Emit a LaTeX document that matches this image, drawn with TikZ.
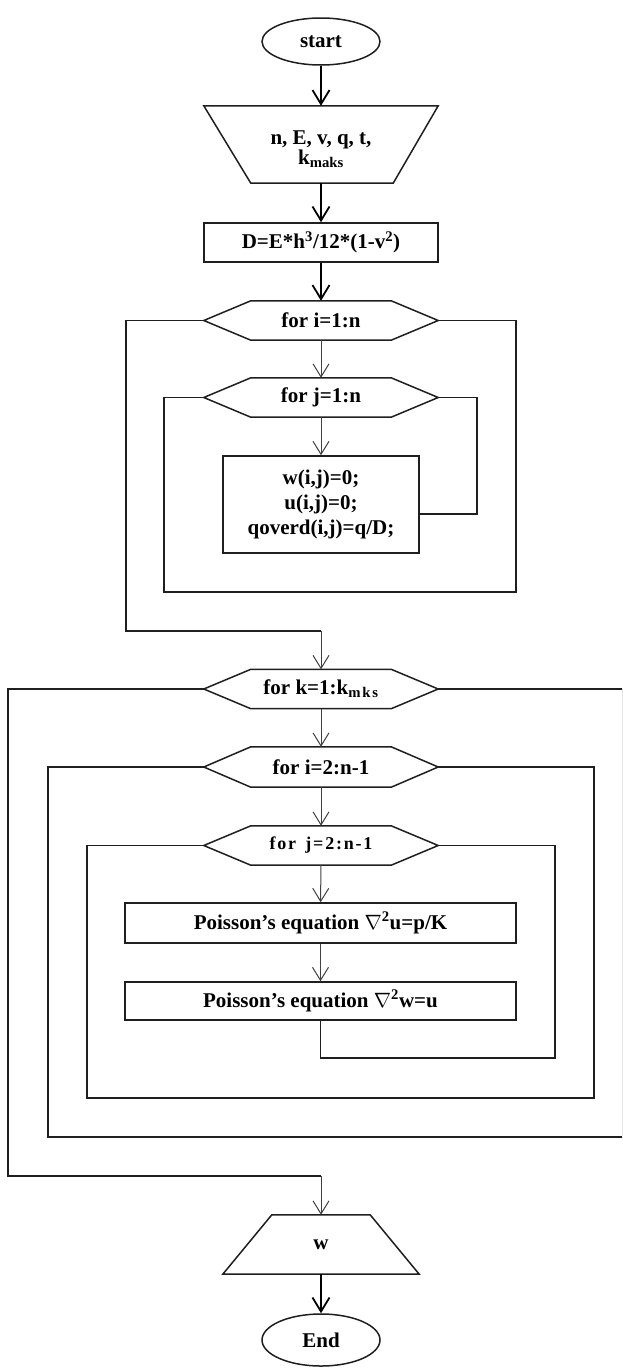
\documentclass[tikz,border=0pt]{standalone}
\usepackage{fontspec}
\setmainfont{Liberation Serif}
\usetikzlibrary{arrows.meta,calc,shapes.geometric}

\begin{document}
\begin{tikzpicture}[x=1pt,y=-1pt,
  font=\fontsize{21}{25}\selectfont\bfseries,
  frame/.style={draw=black!88, line width=1.5pt},
  block/.style={frame, rectangle, inner sep=0pt, align=center},
  hexbox/.style={rectangle, inner sep=0pt, minimum width=234pt, minimum height=39pt},
  terminal/.style={frame, ellipse, inner sep=0pt, minimum width=118pt},
  wire/.style={draw=black!88, line width=1.5pt},
  flow/.style={draw=black!75, line width=1pt, -{Straight Barb[length=13pt,width=16pt]}},
  mainflow/.style={draw=black, line width=1.8pt, -{Straight Barb[length=14pt,width=17pt]}},
]
\useasboundingbox (0,0) rectangle (622,1368);
\clip (0,0) rectangle (622,1368);

% ---- initialisation part ----
\node[terminal, minimum height=47pt] (start) at (321,41.5) {start};
\node[rectangle, inner sep=0pt, minimum width=234pt, minimum height=77pt] (inp) at (321,144.5) {};
\node[align=center, inner sep=0pt, font=\fontsize{21}{17}\selectfont\bfseries] (inptxt)
      at (321,149) {n, E, v, q, t,\\k\textsubscript{maks}};
\node[block, minimum width=234pt, minimum height=39pt] (dbox) at (321,242.5)
      {D=E*h\textsuperscript{3}/12*(1-v\textsuperscript{2})};
\node[hexbox] (hi) at (321,320.5) {for i=1:n};
\node[hexbox] (hj) at (321,397.5) {for j=1:n};
\node[block, minimum width=196pt, minimum height=97pt] (init) at (321,504.5)
      {w(i,j)=0;\\u(i,j)=0;\\qoverd(i,j)=q/D;};

% ---- iteration part ----
\node[hexbox] (hk) at (321,689) {for k=1:k\textsubscript{\addfontfeature{LetterSpace=12}mks}};
\node[hexbox, minimum height=40pt] (hi2) at (321,767) {for i=2:n-1};
\node[hexbox] (hj2) at (321,845.5)
      {\fontsize{18}{22}\selectfont\addfontfeature{LetterSpace=10}for\hspace{3pt} j=2:n-1};
\node[block, minimum width=391pt, minimum height=40pt] (p1) at (320.5,923)
      {Poisson’s equation $\nabla$\textsuperscript{2}u=p/K};
\node[block, minimum width=391pt, minimum height=38pt] (p2) at (320.5,1001)
      {Poisson’s equation $\nabla$\textsuperscript{2}w=u};

% ---- output and end ----
\node[rectangle, inner sep=0pt, minimum width=196pt, minimum height=59pt] (outp) at (321,1244.5) {w};
\node[terminal, minimum height=52pt] (finish) at (321,1340) {End};

% shape outlines
\draw[frame] (inp.north west) -- (inp.north east) -- ($(inp.south east)+(-45,0)$)
      -- ($(inp.south west)+(47,0)$) -- cycle;
\draw[frame] ($(outp.north west)+(49,0)$) -- ($(outp.north east)+(-49,0)$)
      -- (outp.south east) -- (outp.south west) -- cycle;
\foreach \h in {hi,hj,hk,hi2,hj2}
  \draw[frame] (\h.west) -- ($(\h.north west)+(47,0)$) -- ($(\h.north east)+(-47,0)$)
      -- (\h.east) -- ($(\h.south east)+(-47,0)$) -- ($(\h.south west)+(47,0)$) -- cycle;

% loop corner points
\coordinate (jret) at (477,514);
\coordinate (ibr) at (516,592);
\coordinate (ibl) at (164,592);
\coordinate (iout) at (126,631);
\coordinate (ioutc) at (321,631);
\coordinate (jret2) at (555,1058);
\coordinate (j2l) at (87,1098);
\coordinate (j2r) at (594,1098);
\coordinate (i2l) at (48,1137);
\coordinate (i2r) at (623,1137);
\coordinate (kout) at (8,1176);
\coordinate (koutc) at (321,1176);

% main flow
\draw[mainflow] (start) -- (inp);
\draw[mainflow] (inp) -- (dbox);
\draw[mainflow] (dbox) -- (hi);
\draw[flow] (hi) -- (hj);
\draw[flow] (hj) -- (init);
\draw[wire] (hj.east) -| (jret) -- (init.east |- jret);
\draw[wire] (hi.east) -| (ibr) -- (ibl) |- (hj.west);
\draw[wire] (hi.west) -| (iout) -- (ioutc);
\draw[flow] (ioutc) -- (hk.north);

\draw[flow] (hk) -- (hi2);
\draw[flow] (hi2) -- (hj2);
\draw[flow] (hj2) -- (p1);
\draw[flow] (p1) -- (p2);
\draw[wire] (p2.south) |- (jret2) |- (hj2.east);
\draw[wire] (hj2.west) -| (j2l) -- (j2r) |- (hi2.east);
\draw[wire] (hi2.west) -| (i2l) -- (i2r) |- (hk.east);
\draw[wire] (hk.west) -| (kout) -- (koutc);
\draw[flow] (koutc) -- (outp.north);
\draw[mainflow] (outp) -- (finish);
\end{tikzpicture}
\end{document}
